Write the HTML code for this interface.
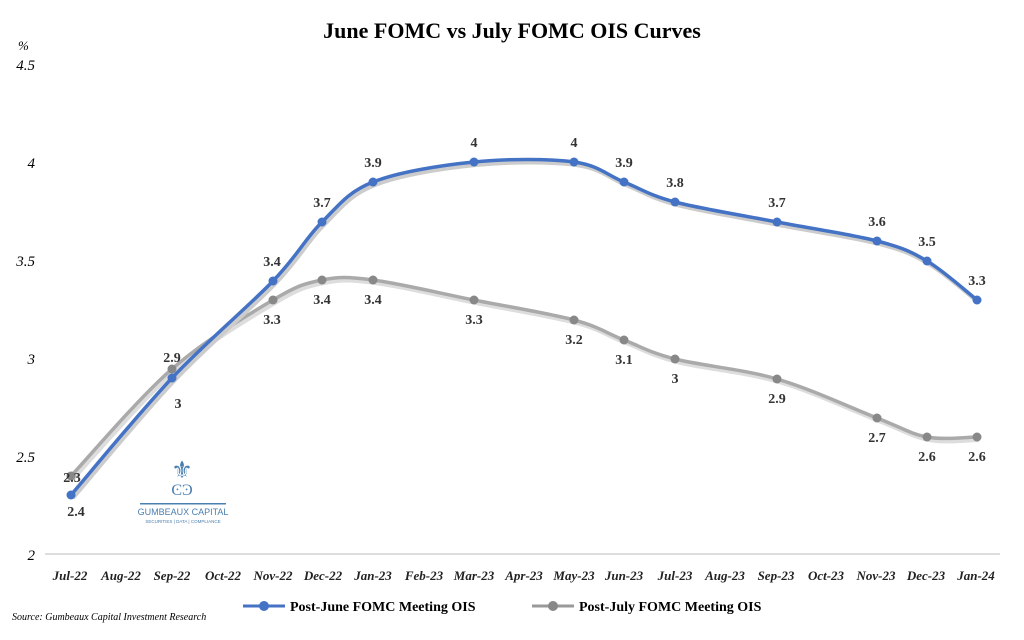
<!DOCTYPE html>
<html><head><meta charset="utf-8"><style>
body{margin:0;background:#fff;width:1024px;height:635px;overflow:hidden}
svg text{font-family:"Liberation Serif",serif}
</style></head><body>
<svg id="s" width="1024" height="635" xmlns="http://www.w3.org/2000/svg">
<text x="512" y="38" text-anchor="middle" font-size="22" font-weight="bold">June FOMC vs July FOMC OIS Curves</text>
<text x="18" y="50" font-size="13" font-style="italic">%</text>
<g font-size="15" font-style="italic" text-anchor="end">
<text x="35" y="70">4.5</text><text x="35" y="168">4</text><text x="35" y="266">3.5</text><text x="35" y="364">3</text><text x="35" y="462">2.5</text><text x="35" y="560">2</text>
</g>
<line x1="45" y1="554" x2="1000" y2="554" stroke="#bbb"/>
<g font-size="13" font-style="italic" font-weight="bold" text-anchor="middle" fill="#222">
<text x="70" y="580">Jul-22</text><text x="121" y="580">Aug-22</text><text x="172" y="580">Sep-22</text><text x="223" y="580">Oct-22</text><text x="273" y="580">Nov-22</text><text x="323" y="580">Dec-22</text><text x="373" y="580">Jan-23</text><text x="424" y="580">Feb-23</text><text x="474" y="580">Mar-23</text><text x="524" y="580">Apr-23</text><text x="574" y="580">May-23</text><text x="624" y="580">Jun-23</text><text x="675" y="580">Jul-23</text><text x="725" y="580">Aug-23</text><text x="776" y="580">Sep-23</text><text x="826" y="580">Oct-23</text><text x="876" y="580">Nov-23</text><text x="926" y="580">Dec-23</text><text x="976" y="580">Jan-24</text>
</g>
<g transform="translate(140,440)" fill="#4a7fb0">
<text x="42" y="38" font-size="24" text-anchor="middle" fill="#4a7fb0">⚜</text>
<text x="42" y="55" font-size="16" text-anchor="middle" fill="#4a7fb0" font-family="Liberation Sans">ϾϿ</text>
<rect x="0" y="63" width="86" height="1.5"/>
<text x="43" y="75" font-size="9" text-anchor="middle" font-family="Liberation Sans" style="font-family:'Liberation Sans'">GUMBEAUX CAPITAL</text>
<text x="43" y="83" font-size="4.5" text-anchor="middle" style="font-family:'Liberation Sans'">SECURITIES | DATA | COMPLIANCE</text>
</g>
<g id="lines"></g>
<g font-size="14" font-weight="bold" text-anchor="middle" fill="#333">
<text x="72" y="482">2.3</text><text x="172" y="362">2.9</text><text x="272" y="266">3.4</text><text x="322" y="207">3.7</text><text x="373" y="167">3.9</text><text x="474" y="147">4</text><text x="574" y="147">4</text><text x="624" y="167">3.9</text><text x="675" y="187">3.8</text><text x="777" y="207">3.7</text><text x="877" y="226">3.6</text><text x="927" y="246">3.5</text><text x="977" y="285">3.3</text>
<text x="76" y="516">2.4</text><text x="178" y="408">3</text><text x="272" y="324">3.3</text><text x="322" y="304">3.4</text><text x="373" y="304">3.4</text><text x="474" y="324">3.3</text><text x="574" y="344">3.2</text><text x="624" y="364">3.1</text><text x="675" y="383">3</text><text x="777" y="403">2.9</text><text x="877" y="442">2.7</text><text x="927" y="461">2.6</text><text x="977" y="461">2.6</text>
</g>
<line x1="243" y1="606" x2="285" y2="606" stroke="#4472c4" stroke-width="3"/><circle cx="264" cy="606" r="5" fill="#4472c4"/>
<text x="290" y="611" font-size="14" font-weight="bold">Post-June FOMC Meeting OIS</text>
<line x1="532" y1="606" x2="574" y2="606" stroke="#999" stroke-width="3"/><circle cx="553" cy="606" r="5" fill="#888"/>
<text x="579" y="611" font-size="14" font-weight="bold">Post-July FOMC  Meeting OIS</text>
<text x="12" y="620" font-size="10" font-style="italic">Source: Gumbeaux Capital Investment Research</text>
</svg>
<script>
function path(p){let d="M"+p[0][0]+","+p[0][1];for(let i=0;i<p.length-1;i++){const a=p[i-1]||p[i],b=p[i],c=p[i+1],e=p[i+2]||c;const k=6;d+=" C"+(b[0]+(c[0]-a[0])/k)+","+(b[1]+(c[1]-a[1])/k)+" "+(c[0]-(e[0]-b[0])/k)+","+(c[1]-(e[1]-b[1])/k)+" "+c[0]+","+c[1];}return d;}
const B=[[71,495],[172,378],[273,281],[322,222],[373,182],[474,162],[574,162],[624,182],[675,202],[777,222],[877,241],[927,261],[977,300]];
const G=[[71,476],[172,369],[273,300],[322,280],[373,280],[474,300],[574,320],[624,340],[675,359],[777,379],[877,418],[927,437],[977,437]];
let h="";
h+='<path d="'+path(G)+'" transform="translate(2,3)" fill="none" stroke="#ddd" stroke-width="4"/>';
h+='<path d="'+path(G)+'" fill="none" stroke="#aaa" stroke-width="3.5"/>';
h+='<path d="'+path(B)+'" transform="translate(2,3)" fill="none" stroke="#ccc" stroke-width="4"/>';
h+='<path d="'+path(B)+'" fill="none" stroke="#4472c4" stroke-width="3.5"/>';
G.forEach(p=>h+='<circle cx="'+p[0]+'" cy="'+p[1]+'" r="4.5" fill="#888"/>');
B.forEach(p=>h+='<circle cx="'+p[0]+'" cy="'+p[1]+'" r="4.5" fill="#4472c4"/>');
document.getElementById("lines").innerHTML=h;
</script>
</body></html>
